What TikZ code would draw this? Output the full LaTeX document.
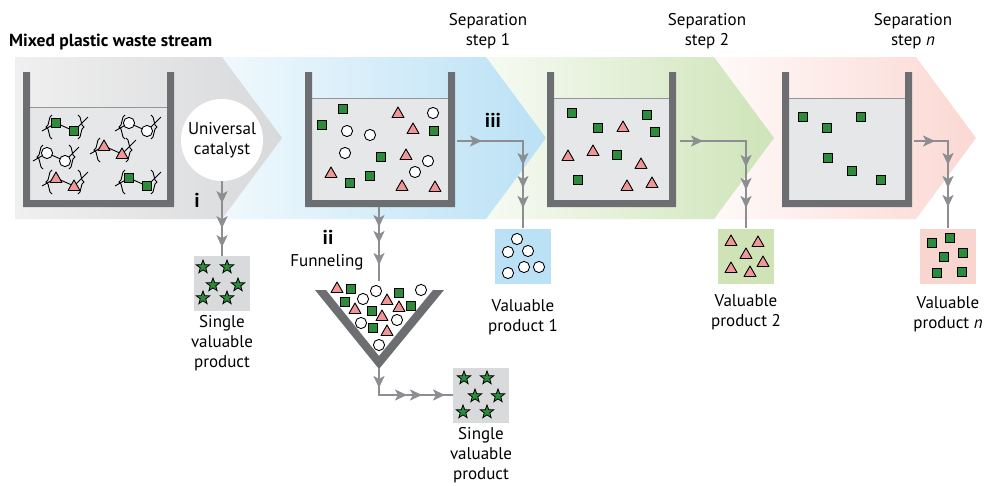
\documentclass[tikz,border=0pt]{standalone}
\usepackage{fontspec}
\setmainfont{PT Sans}
\usetikzlibrary{positioning,shapes.geometric,arrows.meta,decorations.markings}

\definecolor{wallgray}{RGB}{109,110,113}
\definecolor{liqgray}{RGB}{230,231,232}
\definecolor{liqline}{RGB}{147,149,152}
\definecolor{linegray}{RGB}{140,142,145}
\definecolor{mgreen}{RGB}{44,140,60}
\definecolor{mpink}{RGB}{240,150,150}
\definecolor{bandgray}{RGB}{216,217,219}
\definecolor{bandblue}{RGB}{186,225,245}
\definecolor{bandgreen}{RGB}{206,228,184}
\definecolor{bandpink}{RGB}{251,216,211}
\definecolor{boxgray}{RGB}{217,218,219}
\definecolor{boxblue}{RGB}{186,225,245}
\definecolor{boxgreen}{RGB}{207,227,183}
\definecolor{boxpink}{RGB}{249,213,208}

% beaker: left edge, right edge, liquid level
\newcommand{\beaker}[3]{%
  \fill[liqgray] (#1+7,#3) rectangle (#2-7,200);
  \draw[liqline, line width=0.8pt] (#1+7,#3) -- (#2-7,#3);
  \fill[wallgray] (#1,72) -- (#1,207) -- (#2,207) -- (#2,72) -- (#2-7,72)
    -- (#2-7,200) -- (#1+7,200) -- (#1+7,72) -- cycle;
}

\tikzset{
  flow/.style={draw=linegray, line width=2.6pt},
  tipat/.style={postaction={decorate, decoration={markings,
    mark=at position #1 with {\arrow[linegray]{Stealth[length=12pt,width=11pt,inset=3pt]}}}}},
  prodbox/.style={minimum width=56pt, minimum height=55pt, inner sep=0pt},
  lbl/.style={align=center, font=\fontsize{17}{20}\selectfont, inner sep=0pt},
  roman/.style={font=\fontsize{20}{20}\selectfont\bfseries, inner sep=0pt},
  sqm/.pic={\draw[fill=mgreen, line width=0.9pt] (-4.7,-4.7) rectangle (4.7,4.7);},
  cim/.pic={\draw[fill=white, line width=0.9pt] (0,0) circle (5.6);},
  trm/.pic={\draw[fill=mpink, line width=0.9pt, line join=round] (-6,4.5) -- (6,4.5) -- (0,-6) -- cycle;},
  stm/.pic={\node[star, star points=5, star point ratio=2.4, draw, fill=mgreen,
    line width=0.8pt, minimum size=14pt, inner sep=0pt] {};},
  poly/.pic={
    \draw[line width=0.9pt] (-23,4) -- (-9,-4) -- (9,4) -- (23,-10);
    \draw[line width=0.9pt] (-13,-12) .. controls (-17,-11) and (-15,-1) .. (-19,0)
      .. controls (-15,1) and (-17,11) .. (-13,12);
    \draw[line width=0.9pt] (13,-12) .. controls (17,-11) and (15,-1) .. (19,0)
      .. controls (15,1) and (17,11) .. (13,12);
    \pic at (-9,-4) {#1};
    \pic at (9,4) {#1};
  },
}

\begin{document}
\begin{tikzpicture}[x=1pt,y=-1pt]
  \useasboundingbox (0,0) rectangle (985,485);

  % stage bands, right to left
  \shade[left color=bandpink!10, right color=bandpink] (700,57) -- (916,57) -- (976,138) -- (916,219) -- (700,219) -- cycle;
  \shade[left color=bandgreen!10, right color=bandgreen] (460,57) -- (714,57) -- (774,138) -- (714,219) -- (460,219) -- cycle;
  \shade[left color=bandblue!20, right color=bandblue] (215,57) -- (486,57) -- (546,138) -- (486,219) -- (215,219) -- cycle;
  \shade[left color=gray!12, right color=bandgray] (15,57) -- (222,57) -- (282,138) -- (222,219) -- (15,219) -- cycle;

  % beakers
  \beaker{23}{174}{107}
  \beaker{305}{455}{98}
  \beaker{547}{676}{98}
  \beaker{782}{912}{98}

  % mixed polymers
  \foreach \x/\y/\m in {65/127/sqm, 138/127/cim, 56/157/cim, 113/150/trm, 65/182/trm, 138/182/sqm}
    \pic at (\x,\y) {poly=\m};

  % beaker 2
  \foreach \x/\y in {343/109, 322/125, 434/131, 381/157, 350/183, 370/176}
    \pic at (\x,\y) {sqm};
  \foreach \x/\y in {347/131, 370/135, 433/113, 345/153, 428/161, 415/172}
    \pic at (\x,\y) {cim};
  \foreach \x/\y in {398/113, 413/129, 406/155, 331/173, 402/186, 435/187}
    \pic at (\x,\y) {trm};

  % beaker 3
  \foreach \x/\y in {572/113, 647/115, 598/128, 655/132, 617/155, 578/180}
    \pic at (\x,\y) {sqm};
  \foreach \x/\y in {623/127, 568/156, 593/151, 641/164, 627/186, 652/183}
    \pic at (\x,\y) {trm};

  % beaker n
  \foreach \x/\y in {803/117, 861/117, 827/128, 828/158, 852/171, 881/180}
    \pic at (\x,\y) {sqm};

  % funnel
  \fill[wallgray] (315,290) -- (379,369) -- (444,290) -- (433,290) -- (379,356) -- (326,290) -- cycle;
  \foreach \x/\y in {351/289, 399/293, 345/302, 372/311, 411/306, 373/328}
    \pic at (\x,\y) {sqm};
  \foreach \x/\y in {376/291, 421/290, 363/299, 361/323, 397/320, 379/345}
    \pic at (\x,\y) {cim};
  \foreach \x/\y in {337/288, 387/300, 355/309, 399/307, 382/316, 387/331}
    \pic at (\x,\y) {trm};

  % catalyst and products
  \node[circle, fill=white, minimum size=82pt, lbl] (cat) at (222,140) {Universal\\catalyst};
  \node[prodbox, fill=boxgray] (p0) at (222,283.5) {};
  \node[prodbox, fill=boxgray] (pf) at (481,395) {};
  \node[prodbox, fill=boxblue] (p1) at (523,256) {};
  \node[prodbox, fill=boxgreen] (p2) at (746,256) {};
  \node[prodbox, fill=boxpink] (pn) at (948,256) {};

  \foreach \x/\y in {203/267, 227/267, 213/285, 238/285, 203/298, 227/298}
    \pic at (\x,\y) {stm};
  \foreach \x/\y in {464/378, 487/378, 475/396, 498/396, 463/412, 487/412}
    \pic at (\x,\y) {stm};
  \foreach \x/\y in {517/239, 508/252, 528/251, 508/273, 524/267, 539/267}
    \pic at (\x,\y) {cim};
  \foreach \x/\y in {731/241, 758/242, 746/254, 763/262, 731/268, 750/272}
    \pic at (\x,\y) {trm};
  \foreach \x/\y in {932/243, 950/238, 963/253, 944/257, 937/273, 962/272}
    \pic at (\x,\y) {sqm};

  % flow lines
  \coordinate (b2b) at (379,207);
  \coordinate (fin) at (379,281);
  \coordinate (ftip) at (379,368);
  \coordinate (b2r) at (457,141);
  \coordinate (b3r) at (680,141);
  \coordinate (b4r) at (914,141);
  \draw[flow, tipat=22pt, tipat=47pt, tipat=66pt] (cat.south) -- (p0.north);
  \draw[flow, tipat=20pt, tipat=36pt, tipat=58pt] (b2b) -- (fin);
  \draw[flow, tipat=20pt, tipat=55pt, tipat=70pt, tipat=93pt] (ftip) |- (pf.west);
  \draw[flow, tipat=25pt, tipat=90pt, tipat=113pt, tipat=133pt] (b2r) -| (p1.north);
  \draw[flow, tipat=23pt, tipat=92pt, tipat=115pt, tipat=133pt] (b3r) -| (p2.north);
  \draw[flow, tipat=21pt, tipat=58pt, tipat=81pt, tipat=100pt] (b4r) -| (pn.north);

  % labels
  \node[anchor=west, font=\fontsize{17.5}{18}\selectfont\bfseries, inner sep=0pt] (title) at (9,42) {Mixed plastic waste stream};
  \node[lbl] (s1) at (488,31) {Separation\\step 1};
  \node[lbl] (s2) at (707,31) {Separation\\step 2};
  \node[lbl] (sn) at (913,31) {Separation\\step \textit{n}};
  \node[roman] (ri) at (197,200) {i};
  \node[roman] (rii) at (328,237) {ii};
  \node[roman] (riii) at (493,120) {iii};
  \node[lbl] (fun) at (327,262) {Funneling};
  \node[lbl, below=4pt of p0] (l0) {Single\\valuable\\product};
  \node[lbl, below=4pt of pf] (lf) {Single\\valuable\\product};
  \node[lbl, below=16pt of p1] (l1) {Valuable\\product 1};
  \node[lbl, below=11pt of p2] (l2) {Valuable\\product 2};
  \node[lbl, below=13pt of pn] (ln) {Valuable\\product \textit{n}};
\end{tikzpicture}
\end{document}
